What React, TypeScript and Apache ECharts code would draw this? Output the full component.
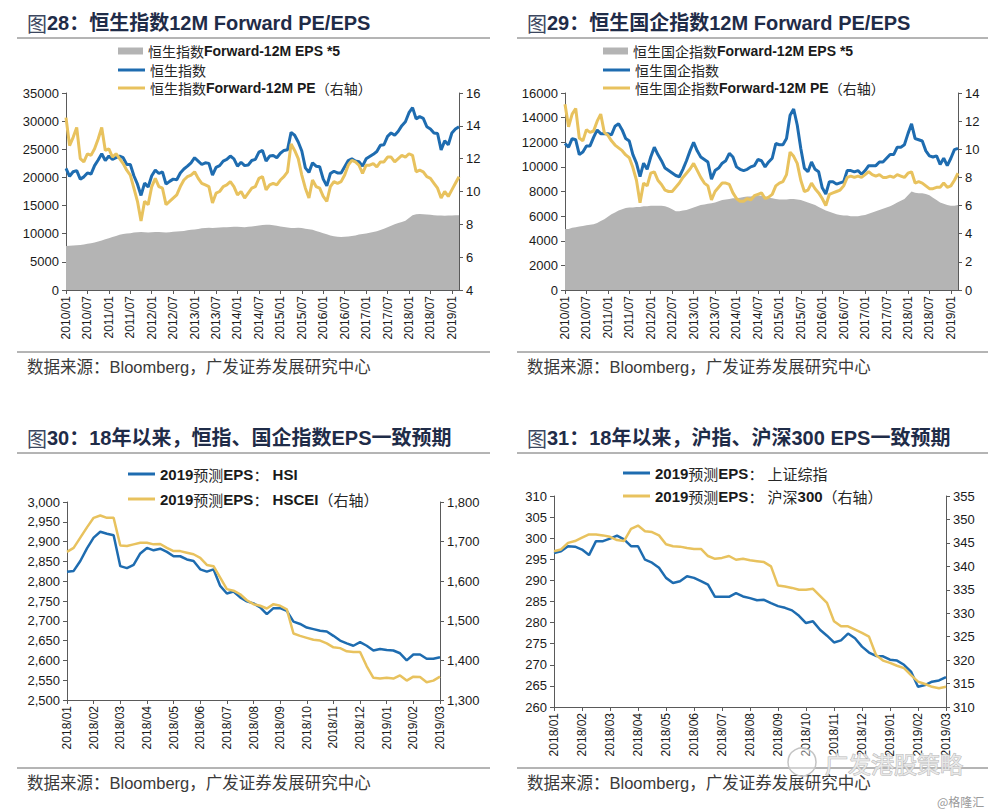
import React, { useEffect, useRef } from 'react';
import * as echarts from 'echarts';

// ---------- DATA ----------
// Monthly, 2010/01 .. 2019/03 (111 points)
const hsiIndex = [
  21600, 20200, 21000, 21200, 19700, 20100, 20800, 20600, 22100, 23100, 24200, 23000,
  23800, 23200, 23500, 23800, 23500, 22300, 22300, 20300, 18800, 16800, 19000, 18300,
  20300, 21300, 20700, 21000, 18800, 19300, 19700, 19600, 20800, 21500, 22000, 22600,
  23500, 22900, 22300, 22600, 22500, 20400, 21800, 22100, 22900, 23200, 23800, 23300,
  22000, 22700, 22100, 22200, 23000, 23200, 24500, 24800, 22900, 23800, 23900, 23500,
  24300, 24800, 24900, 28000, 27500, 26300, 24700, 21700, 20900, 22600, 22000, 21900,
  19700, 18500, 20700, 21100, 20800, 20800, 21900, 23000, 23300, 22900, 22800, 22000,
  23300, 23700, 24100, 24600, 25700, 25800, 27300, 27900, 27500, 28200, 29200, 29900,
  31500, 32400, 30400, 30800, 30500, 29000, 28600, 27900, 27800, 24900, 26500, 25800,
  27900, 28600, 29000,
];
const hsiEps5 = [
  7800, 7850, 7900, 7950, 8000, 8100, 8200, 8300, 8450, 8600, 8800, 9000,
  9200, 9400, 9600, 9800, 9950, 10050, 10100, 10200, 10250, 10300, 10250, 10200,
  10250, 10300, 10300, 10250, 10200, 10250, 10350, 10400, 10450, 10500, 10600, 10700,
  10750, 10850, 10950, 11000, 11050, 11000, 11050, 11100, 11150, 11150, 11200, 11250,
  11250, 11200, 11150, 11250, 11300, 11350, 11450, 11550, 11600, 11600, 11500, 11400,
  11300, 11200, 11100, 11000, 11000, 11050, 11000, 10900, 10800, 10700, 10500, 10300,
  10100, 9900, 9700, 9550, 9450, 9400, 9450, 9500, 9600, 9700, 9850, 9950,
  10050, 10150, 10300, 10450, 10650, 10900, 11150, 11400, 11700, 11900, 12100, 12300,
  12800, 13300, 13450, 13500, 13450, 13400, 13350, 13300, 13250, 13250, 13200, 13250,
  13250, 13300, 13300,
];
const hsiPe = [
  14.5, 12.8, 13.3, 13.9, 12.0, 11.8, 12.3, 12.2, 12.6, 13.2, 13.9, 12.5,
  12.6, 12.1, 12.3, 12.0, 11.7, 11.3, 11.0, 10.2, 9.4, 8.2, 9.4, 9.2,
  10.3, 10.8, 10.3, 10.2, 9.2, 9.4, 9.6, 9.8, 10.3, 10.7, 10.9, 11.0,
  11.2, 10.8, 10.5, 10.4, 10.3, 9.3, 9.9, 10.0, 10.3, 10.4, 10.6, 10.3,
  9.8, 10.0, 9.6, 9.9, 10.2, 10.3, 10.8, 10.9, 10.1, 10.4, 10.5, 10.4,
  10.7, 10.9, 11.2, 12.9, 12.5, 12.0, 11.0, 10.2, 9.6, 10.7, 10.3, 10.2,
  9.7, 9.4, 10.3, 10.6, 10.5, 10.6, 11.0, 11.6, 11.9, 11.8, 11.6, 11.1,
  11.6, 11.6, 11.7, 11.5, 11.8, 11.8, 12.1, 12.1, 11.8, 12.0, 12.2, 12.1,
  12.3, 12.2, 11.2, 11.3, 11.2, 10.9, 10.8, 10.5, 10.2, 9.6, 10.0, 9.7,
  10.1, 10.5, 10.9,
];
const hsceiIndex = [
  11900, 11600, 12300, 12200, 11000, 11200, 11700, 11700, 12400, 13000, 12700, 12700,
  12700, 12600, 13300, 13500, 13000, 12300, 12100, 11000, 10300, 9200, 10300, 9800,
  10800, 11600, 11000, 10500, 9900, 9700, 9500, 9300, 9200, 9800, 10500, 11300,
  12000, 11300, 10800, 10600, 10400, 9000, 9700, 9900, 10300, 10500, 11100, 10800,
  10000, 9800, 9700, 9800, 10000, 10100, 10600, 10500, 10000, 10400, 10700, 11900,
  11800, 11800, 12300, 14200, 14700, 13400, 11500, 9900, 9600, 10400, 9800, 9600,
  8300, 7800, 8800, 8800, 8600, 8700, 8800, 9700, 9700, 9600, 9700, 9400,
  9700, 10100, 10100, 10100, 10400, 10400, 10700, 11000, 11000, 11600, 11600, 11800,
  12700, 13500, 12300, 12200, 12100, 11300, 10900, 10800, 10900, 10200, 10700, 10100,
  10700, 11400, 11500,
];
const hsceiEps5 = [
  4950, 4950, 5050, 5100, 5150, 5200, 5250, 5300, 5350, 5450, 5600, 5750,
  5950, 6150, 6300, 6450, 6550, 6650, 6700, 6700, 6750, 6750, 6800, 6800,
  6850, 6850, 6850, 6850, 6800, 6700, 6550, 6400, 6400, 6450, 6500, 6600,
  6700, 6800, 6900, 6950, 7000, 7050, 7100, 7200, 7300, 7350, 7400, 7450,
  7450, 7500, 7550, 7600, 7600, 7650, 7700, 7650, 7600, 7500, 7450, 7400,
  7350, 7350, 7350, 7400, 7400, 7350, 7300, 7200, 7100, 7000, 6900, 6750,
  6600, 6450, 6350, 6250, 6150, 6100, 6050, 6050, 6000, 6000, 6000, 6050,
  6100, 6200, 6300, 6400, 6500, 6600, 6700, 6800, 6950, 7100, 7250, 7400,
  7700, 8000, 7900, 7850, 7850, 7800, 7700, 7500, 7300, 7100, 7000, 6900,
  6850, 6850, 6900,
];
const hsceiPe = [
  13.2, 11.6, 12.5, 12.9, 10.8, 10.6, 11.4, 11.2, 11.3, 12.0, 12.5, 11.2,
  11.0, 10.6, 10.3, 10.1, 9.9, 9.6, 9.4, 8.7, 7.8, 6.2, 7.6, 7.4,
  8.3, 8.4, 7.8, 7.5, 7.1, 7.0, 7.0, 7.3, 7.6, 8.0, 8.3, 8.6,
  9.0, 8.5, 8.0, 7.6, 7.4, 6.4, 7.0, 7.3, 7.6, 7.6, 7.5, 6.9,
  6.5, 6.3, 6.3, 6.5, 6.4, 6.7, 6.8, 6.9, 6.5, 6.6, 6.8, 7.4,
  7.6, 7.7, 8.2, 9.8, 9.5, 9.0, 7.8, 7.0, 7.1, 7.6, 7.2, 6.9,
  6.5, 6.0, 6.8, 6.9, 7.0, 7.1, 7.4, 8.0, 8.1, 8.0, 8.1, 8.0,
  8.2, 8.4, 8.2, 8.1, 8.2, 8.0, 8.0, 8.1, 8.0, 8.2, 8.1, 8.0,
  8.3, 8.4, 7.6, 7.7, 7.6, 7.4, 7.2, 7.2, 7.3, 7.3, 7.6, 7.3,
  7.4, 7.8, 8.3,
];

// Weekly (4 per month), 2018/01 .. 2019/03 (57 points)
const eps19Hsi = [
  2824, 2826, 2851, 2883, 2910, 2925, 2920, 2916, 2838, 2833,
  2841, 2870, 2884, 2878, 2882, 2874, 2863, 2863, 2855, 2851,
  2830, 2824, 2830, 2788, 2769, 2774, 2759, 2749, 2744, 2734,
  2717, 2732, 2732, 2725, 2698, 2692, 2683, 2679, 2675, 2673,
  2662, 2650, 2643, 2637, 2646, 2637, 2625, 2629, 2626, 2625,
  2618, 2600, 2615, 2615, 2604, 2604, 2608,
];
const eps19Hscei = [
  1674, 1684, 1710, 1736, 1760, 1766, 1760, 1760, 1690, 1689,
  1693, 1697, 1697, 1693, 1694, 1684, 1676, 1676, 1672, 1668,
  1659, 1641, 1638, 1609, 1580, 1576, 1567, 1552, 1542, 1538,
  1531, 1542, 1538, 1529, 1468, 1462, 1457, 1452, 1450, 1443,
  1433, 1431, 1423, 1421, 1421, 1385, 1356, 1354, 1356, 1354,
  1362, 1349, 1359, 1358, 1345, 1349, 1359,
];
const eps19Sh = [
  296.5, 296.9, 298.1, 298.0, 297.3, 296.0, 299.3, 299.3, 299.9, 300.6,
  299.7, 298.1, 298.1, 294.9, 294.2, 293.0, 290.6, 289.4, 289.8, 291.0,
  290.6, 289.8, 289.0, 286.1, 286.1, 286.1, 287.0, 286.2, 285.8, 285.3,
  285.4, 284.6, 283.9, 283.5, 282.9, 281.6, 279.9, 280.3, 278.3, 276.9,
  275.3, 275.8, 277.4, 276.3, 274.3, 272.9, 272.1, 272.0, 271.2, 271.0,
  270.0, 268.4, 264.8, 265.2, 266.0, 266.3, 267.1,
];
const eps19Hs300 = [
  343.2, 343.6, 345.0, 345.4, 346.1, 346.8, 346.8, 346.6, 346.3, 345.6,
  345.4, 348.0, 348.7, 347.5, 347.3, 346.6, 344.7, 344.3, 344.2, 343.9,
  343.7, 343.7, 342.2, 341.6, 341.8, 342.2, 341.4, 341.6, 341.3, 341.1,
  340.9, 340.0, 335.9, 335.7, 335.4, 335.0, 335.0, 335.2, 333.7, 332.2,
  328.3, 327.2, 327.2, 326.5, 325.8, 325.0, 321.1, 319.9, 319.4, 318.8,
  318.3, 316.8, 315.4, 314.9, 314.3, 314.0, 314.3,
];

const pad = (n: number) => String(n).padStart(2, '0');
const monthCats: string[] = [];
for (let i = 0; i < 111; i++) monthCats.push(`${2010 + Math.floor(i / 12)}/${pad((i % 12) + 1)}`);
const weekCats: string[] = [];
for (let i = 0; i < 57; i++) {
  const mi = Math.floor(i / 4);
  weekCats.push(`${2018 + Math.floor(mi / 12)}/${pad((mi % 12) + 1)} W${(i % 4) + 1}`);
}

const titles = [
  '28：恒生指数12M Forward PE/EPS',
  '29：恒生国企指数12M Forward PE/EPS',
  '30：18年以来，恒指、国企指数EPS一致预期',
  '31：18年以来，沪指、沪深300 EPS一致预期',
];
const sourceText = '数据来源：Bloomberg，广发证券发展研究中心';

const names = {
  hsiEps: '恒生指数Forward-12M EPS *5',
  hsi: '恒生指数',
  hsiPe: '恒生指数Forward-12M PE（右轴）',
  hsceiEps: '恒生国企指数Forward-12M EPS *5',
  hscei: '恒生国企指数',
  hsceiPe: '恒生国企指数Forward-12M PE（右轴）',
  e3a: '2019预测EPS： HSI',
  e3b: '2019预测EPS： HSCEI（右轴）',
  e4a: '2019预测EPS： 上证综指',
  e4b: '2019预测EPS： 沪深300（右轴）',
};

// ---------- STYLE ----------
const BLUE = '#1E6CB0';
const YELLOW = '#E8C25E';
const GRAY = '#B4B4B4';
const AXIS = '#5a5a5a';
const LATIN = '"Liberation Sans", Arial, "Noto Sans CJK SC", sans-serif';
const CJK = '"Noto Sans CJK SC", sans-serif';

const isCjk = (ch: string) => /[\u3000-\u303f\u4e00-\u9fff\uff00-\uffef]/.test(ch);
function toRich(s: string) {
  let out = '';
  let cur = '';
  let mode = '';
  for (const ch of s) {
    const m = isCjk(ch) ? 'c' : 'l';
    if (m !== mode && cur) {
      out += `{${mode}|${cur}}`;
      cur = '';
    }
    mode = m;
    cur += ch;
  }
  if (cur) out += `{${mode}|${cur}}`;
  return out;
}
function richStyles(size: number) {
  return {
    l: { fontFamily: LATIN, fontWeight: 'bold', fontSize: size, color: '#1a1a1a', lineHeight: size + 2 },
    c: { fontFamily: CJK, fontWeight: 'normal', fontSize: size, color: '#262626', lineHeight: size + 2 },
  };
}

function yAxis(gridIndex: number, min: number, max: number, interval: number, position: string, comma = false) {
  return {
    type: 'value', gridIndex, min, max, interval, position,
    axisLine: { show: true, lineStyle: { color: AXIS, width: 1 } },
    axisTick: { show: true, length: 4, lineStyle: { color: AXIS } },
    splitLine: { show: false },
    axisLabel: {
      color: '#1a1a1a', fontSize: 13, fontFamily: LATIN, margin: 7,
      formatter: comma ? (v: number) => v.toLocaleString('en-US') : (v: number) => String(v),
    },
  };
}
function xAxis(gridIndex: number, data: string[], interval: number, weekly: boolean) {
  return {
    type: 'category', gridIndex, data, boundaryGap: false,
    axisLine: { show: true, onZero: false, lineStyle: { color: AXIS, width: 1 } },
    axisTick: { show: true, interval, length: 4, lineStyle: { color: AXIS } },
    splitLine: { show: false },
    axisLabel: {
      interval, rotate: 90, fontSize: 12, color: '#1a1a1a', fontFamily: LATIN, margin: 6,
      formatter: weekly ? (v: string) => v.slice(0, 7) : (v: string) => v,
    },
  };
}
function lineSeries(name: string, data: number[], xi: number, yi: number, color: string, width: number) {
  return {
    type: 'line', name, data, xAxisIndex: xi, yAxisIndex: yi, symbol: 'none',
    lineStyle: { color, width }, itemStyle: { color }, z: 3,
  };
}
function areaSeries(name: string, data: number[], xi: number, yi: number) {
  return {
    type: 'line', name, data, xAxisIndex: xi, yAxisIndex: yi, symbol: 'none',
    lineStyle: { width: 0, color: GRAY }, itemStyle: { color: GRAY },
    areaStyle: { color: GRAY, opacity: 1 }, z: 1,
  };
}
function legend(name: string, left: number, cy: number, kind: 'area' | 'line', size: number) {
  return {
    data: [{ name, icon: 'rect' }],
    left, top: cy - (size + 2) / 2, padding: 0, itemGap: 0,
    itemWidth: kind === 'area' ? 25 : 27,
    itemHeight: kind === 'area' ? 7 : 3,
    selectedMode: false,
    formatter: (n: string) => toRich(n),
    textStyle: { fontSize: size, rich: richStyles(size) },
  };
}
function title(x: number, y: number, text: string) {
  return {
    type: 'text', x, y, silent: true,
    style: {
      text: `{g|图}{b|${text}}`,
      verticalAlign: 'middle',
      rich: {
        g: { fontSize: 20, fontFamily: CJK, fontWeight: 'normal', fill: '#3c4760' },
        b: { fontSize: 20, fontFamily: LATIN, fontWeight: 'bold', fill: '#1f2c48' },
      },
    },
  };
}
function hline(x1: number, x2: number, y: number) {
  return { type: 'line', silent: true, shape: { x1, y1: y, x2, y2: y }, style: { stroke: '#6a6a6a', lineWidth: 1 } };
}
function source(x: number, y: number) {
  return {
    type: 'text', x, y, silent: true,
    style: { text: sourceText, fontSize: 16.5, fontFamily: LATIN, fill: '#3a3a3a', verticalAlign: 'middle' },
  };
}

function buildOption() {
  return {
    animation: false,
    backgroundColor: '#ffffff',
    grid: [
      { left: 66, top: 93, width: 393, height: 197 },
      { left: 565, top: 93, width: 393, height: 197 },
      { left: 67, top: 502, width: 373, height: 198 },
      { left: 554, top: 496, width: 392, height: 211 },
    ],
    xAxis: [
      xAxis(0, monthCats, 5, false),
      xAxis(1, monthCats, 5, false),
      xAxis(2, weekCats, 3, true),
      xAxis(3, weekCats, 3, true),
    ],
    yAxis: [
      yAxis(0, 0, 35000, 5000, 'left'),
      yAxis(0, 4, 16, 2, 'right'),
      yAxis(1, 0, 16000, 2000, 'left'),
      yAxis(1, 0, 14, 2, 'right'),
      yAxis(2, 2500, 3000, 50, 'left', true),
      yAxis(2, 1300, 1800, 100, 'right', true),
      yAxis(3, 260, 310, 5, 'left'),
      yAxis(3, 310, 355, 5, 'right'),
    ],
    legend: [
      legend(names.hsiEps, 118, 52, 'area', 14),
      legend(names.hsi, 118, 71, 'line', 14),
      legend(names.hsiPe, 118, 89, 'line', 14),
      legend(names.hsceiEps, 603, 52, 'area', 14),
      legend(names.hscei, 603, 71, 'line', 14),
      legend(names.hsceiPe, 603, 89, 'line', 14),
      legend(names.e3a, 128, 475, 'line', 15),
      legend(names.e3b, 128, 500, 'line', 15),
      legend(names.e4a, 623, 474, 'line', 15),
      legend(names.e4b, 623, 497, 'line', 15),
    ],
    series: [
      areaSeries(names.hsiEps, hsiEps5, 0, 0),
      lineSeries(names.hsi, hsiIndex, 0, 0, BLUE, 3),
      lineSeries(names.hsiPe, hsiPe, 0, 1, YELLOW, 3),
      areaSeries(names.hsceiEps, hsceiEps5, 1, 2),
      lineSeries(names.hscei, hsceiIndex, 1, 2, BLUE, 3),
      lineSeries(names.hsceiPe, hsceiPe, 1, 3, YELLOW, 3),
      lineSeries(names.e3a, eps19Hsi, 2, 4, BLUE, 2.5),
      lineSeries(names.e3b, eps19Hscei, 2, 5, YELLOW, 2.5),
      lineSeries(names.e4a, eps19Sh, 3, 6, BLUE, 2.5),
      lineSeries(names.e4b, eps19Hs300, 3, 7, YELLOW, 2.5),
    ],
    graphic: [
      title(27, 23, titles[0]),
      title(527, 23, titles[1]),
      title(27, 438, titles[2]),
      title(527, 438, titles[3]),
      hline(17, 490, 38),
      hline(517, 988, 38),
      hline(17, 490, 453),
      hline(517, 988, 453),
      hline(17, 490, 352),
      hline(517, 988, 352),
      hline(17, 490, 768),
      hline(517, 988, 768),
      source(27, 367),
      source(527, 367),
      source(27, 783),
      source(527, 783),
      {
        type: 'circle', silent: true, z: 100,
        shape: { cx: 802, cy: 762, r: 14 },
        style: { fill: 'rgba(255,255,255,0.4)', stroke: '#c4c4c4', lineWidth: 1.5 },
      },
      {
        type: 'text', silent: true, z: 100, x: 825, y: 763,
        style: {
          text: '广发港股策略', fontSize: 23, fontFamily: CJK, fill: 'rgba(235,235,235,0.85)',
          stroke: '#b8b8b8', lineWidth: 1, verticalAlign: 'middle',
        },
      },
      {
        type: 'text', silent: true, z: 100, x: 937, y: 801,
        style: { text: '@格隆汇', fontSize: 12, fontFamily: CJK, fill: '#9a9a9a', verticalAlign: 'middle' },
      },
    ],
  };
}

export default function App() {
  const ref = useRef<HTMLDivElement>(null);
  useEffect(() => {
    if (!ref.current) return;
    const chart = echarts.init(ref.current, null, { renderer: 'svg' });
    chart.setOption(buildOption() as any);
    return () => chart.dispose();
  }, []);
  return (
    <div
      ref={ref}
      style={{ position: 'fixed', left: 0, top: 0, width: 1000, height: 812, background: '#ffffff' }}
    />
  );
}
